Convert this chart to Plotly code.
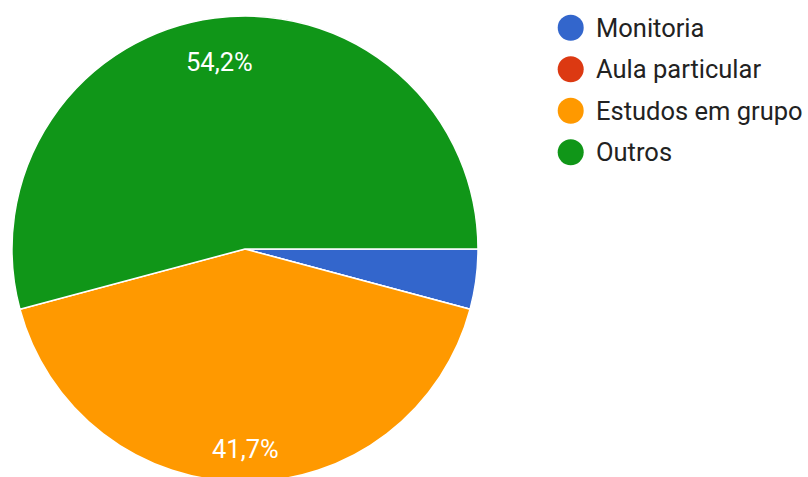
import math
import plotly.graph_objects as go

# Survey answers: how students study for the course
categories = ["Monitoria", "Aula particular", "Estudos em grupo", "Outros"]
counts = [1, 0, 10, 13]
colors = ["#3366CC", "#DC3912", "#FF9900", "#109618"]

W, H = 808, 490          # canvas is a little taller than the window, so the pie's bottom is cut
CX, CY, R = 245, 249, 233  # pie centre and radius in pixels
LABEL_R = 0.835            # radial position of slice labels, as a fraction of R
MIN_LABEL_SHARE = 0.05     # slices smaller than this get no label

total = sum(counts)

fig = go.Figure()
fig.add_trace(go.Pie(
    labels=categories,
    values=counts,
    sort=False,
    direction="clockwise",
    rotation=90,
    textinfo="none",
    marker=dict(colors=colors, line=dict(color="white", width=1.5)),
    showlegend=False,
    domain=dict(x=[(CX - R) / W, (CX + R) / W],
                y=[1 - (CY + R) / H, 1 - (CY - R) / H]),
))

annotations = []
shapes = []

# Percentage labels at the middle angle of each slice
cum = 0
for name, v in zip(categories, counts):
    share = v / total
    mid = cum + share / 2
    cum += share
    if share < MIN_LABEL_SHARE:
        continue
    theta = 2 * math.pi * mid  # clockwise from 3 o'clock
    px = CX + LABEL_R * R * math.cos(theta)
    py = CY + LABEL_R * R * math.sin(theta)
    annotations.append(dict(
        x=px / W, y=1 - py / H, xref="paper", yref="paper",
        text=f"{share * 100:.1f}".replace(".", ",") + "%",
        showarrow=False, xanchor="center", yanchor="middle", yshift=-5.5,
        font=dict(family="Roboto", size=25.5, color="white"),
    ))

# Legend with round swatches
LEG_X, LEG_Y0, LEG_DY, DOT = 570.7, 27.8, 41.5, 26
TEXT_X = 594
for i, (name, c) in enumerate(zip(categories, colors)):
    ly = 1 - (LEG_Y0 + i * LEG_DY) / H
    shapes.append(dict(
        type="circle", xref="paper", yref="paper",
        xsizemode="pixel", ysizemode="pixel",
        xanchor=LEG_X / W, yanchor=ly,
        x0=-DOT / 2, x1=DOT / 2, y0=-DOT / 2, y1=DOT / 2,
        fillcolor=c, line=dict(width=0),
    ))
    annotations.append(dict(
        x=TEXT_X / W, y=ly, xref="paper", yref="paper",
        text=name, showarrow=False, xanchor="left", yanchor="middle",
        font=dict(family="Roboto", size=25.5, color="#222222"),
    ))

fig.update_layout(
    width=W, height=H,
    margin=dict(l=0, r=0, t=0, b=0),
    paper_bgcolor="white", plot_bgcolor="white",
    annotations=annotations, shapes=shapes,
)

fig.write_html(
    "out.html",
    post_script="document.body.style.margin='0';document.body.style.overflow='hidden';",
)
